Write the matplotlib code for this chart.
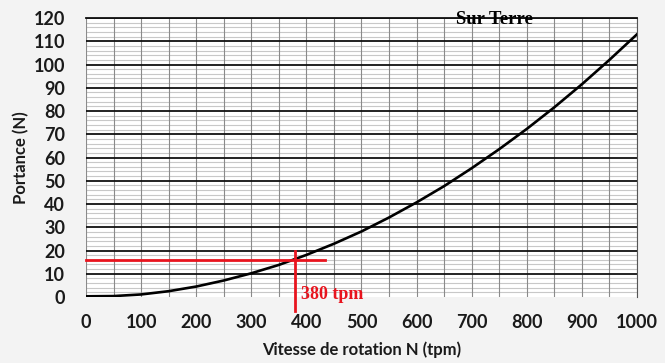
import matplotlib
matplotlib.use("Agg")
import matplotlib.pyplot as plt
import numpy as np

# Data
vitesse = [0, 50, 100, 150, 200, 250, 300, 350, 400, 450, 500,
           550, 600, 650, 700, 750, 800, 850, 900, 950, 1000]
portance = [0.3, 0.4, 1.1, 2.5, 4.5, 7.1, 10.2, 13.8, 18.1, 22.9, 28.2,
            34.2, 40.7, 47.7, 55.4, 63.6, 72.3, 81.6, 91.5, 102.0, 113.0]
x_ticks = [0, 100, 200, 300, 400, 500, 600, 700, 800, 900, 1000]
y_ticks = [0, 10, 20, 30, 40, 50, 60, 70, 80, 90, 100, 110, 120]
n_lecture = 380
p_lecture = 16

fig = plt.figure(figsize=(6.65, 3.63), dpi=100)
fig.patch.set_facecolor("#f3f3f3")
ax = fig.add_axes([0.1293, 0.1818, 0.8286, 0.7686])
ax.set_facecolor("white")
ax.set_xlim(0, 1000)
ax.set_ylim(0, 120)

# grid
for yv in np.arange(0, 121, 2):
    if yv % 10 == 0:
        continue
    ax.axhline(yv, color="#c8c8c8", lw=0.8, zorder=1)
for xv in np.arange(0, 1001, 50):
    ax.axvline(xv, color="#8a8a8a", lw=0.8, zorder=1)
for yv in y_ticks[1:]:
    ax.axhline(yv, color="#111111", lw=1.3, zorder=2)

for s in ax.spines.values():
    s.set_visible(False)
ax.spines["right"].set_visible(True)
ax.spines["right"].set_color("#555555")
ax.spines["top"].set_visible(True)
ax.spines["top"].set_color("#111111")
ax.spines["top"].set_linewidth(1.3)

ax.plot(vitesse, portance, color="black", lw=1.9, zorder=4)

# red reading lines
ax.plot([0, 433], [p_lecture, p_lecture], color="#e8141e", lw=2, zorder=5, clip_on=False)
ax.plot([n_lecture, n_lecture], [20, -6], color="#e8141e", lw=2, zorder=5, clip_on=False)
ax.text(390, 1, f"{n_lecture} tpm", color="#e8141e", fontsize=13, fontweight="bold",
        family="Liberation Serif", va="center", ha="left", zorder=6)
ax.text(671, 119.5, "Sur Terre", color="black", fontsize=13.5, fontweight="bold",
        family="Liberation Serif", va="center", ha="left", zorder=6)

ax.set_xticks(x_ticks)
ax.set_yticks(y_ticks)
ax.tick_params(axis="y", length=0, pad=15)
ax.tick_params(axis="x", length=0, pad=12)
for lab in ax.get_xticklabels() + ax.get_yticklabels():
    lab.set_fontfamily("Lato")
    lab.set_fontweight("bold")
    lab.set_fontsize(13)
    lab.set_color("#1a1a1a")
ax.set_xlabel("Vitesse de rotation N (tpm)", family="Lato", fontweight="bold",
              fontsize=12, color="#1a1a1a", labelpad=8)
ax.set_ylabel("Portance (N)", family="Lato", fontweight="bold",
              fontsize=12, color="#1a1a1a", labelpad=3)

fig.savefig("out.png", dpi=100, facecolor=fig.get_facecolor())
